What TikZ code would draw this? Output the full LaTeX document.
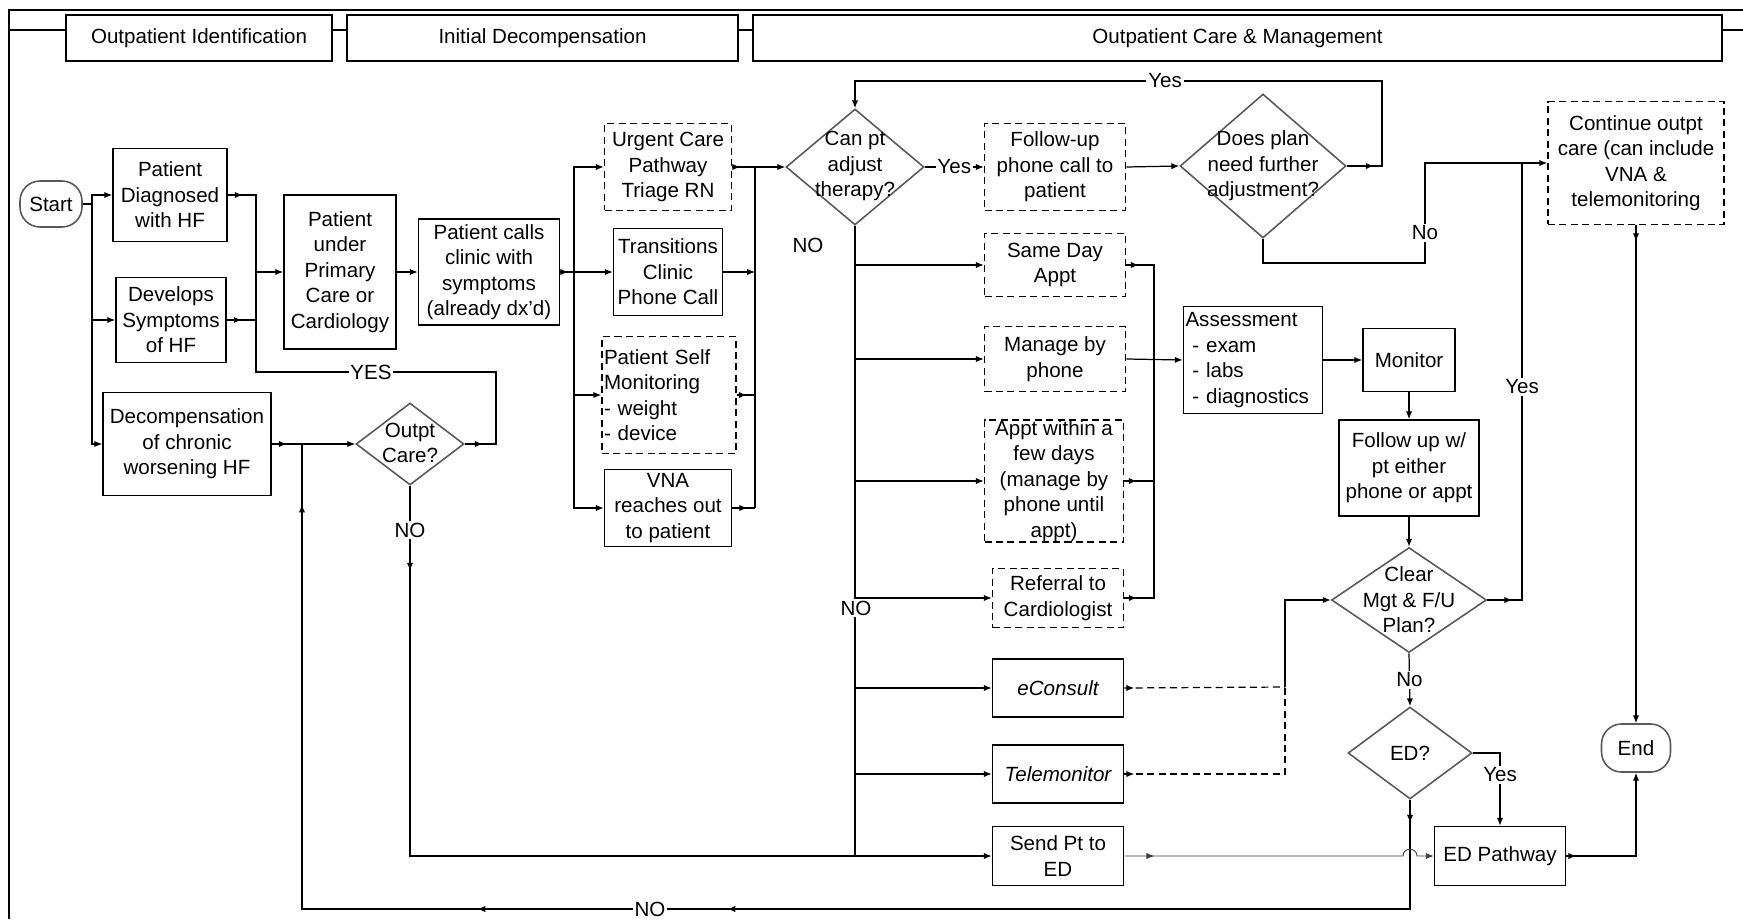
\documentclass[tikz,border=0pt]{standalone}
\usepackage{fontspec}
\setmainfont{Liberation Sans}
\usetikzlibrary{arrows.meta,shapes.geometric,decorations.markings}
\newcommand\fsz{\fontsize{11.7pt}{14.5pt}\selectfont}
\begin{document}
\begin{tikzpicture}[x=0.02cm,y=-0.02cm,
  every node/.style={font=\fsz, text=black},
  >={Latex[length=4.5pt,width=3.6pt]},
  conn/.style={line width=0.7pt, draw=black},
  box/.style={draw=black, line width=0.9pt, align=center, inner sep=0pt},
  dbox/.style={box, dash pattern=on 4pt off 2.5pt},
  dia/.style={diamond, draw=black!65, line width=0.9pt, inner sep=0pt},
  term/.style={draw=black!65, line width=0.9pt, rounded corners=0.4cm, inner sep=0pt, align=center},
  hdr/.style={draw=black, line width=1pt, inner sep=0pt},
  lbl/.style={fill=white, inner sep=1pt},
  am/.style={postaction={decorate,decoration={markings,mark=at position #1 with {\arrow{Latex[length=4.5pt,width=3.6pt]}}}}},
]
\useasboundingbox (0,0) rectangle (1743,919);
% frame
\draw[line width=1pt] (1743,10) -- (9,10) -- (9,919);
% headers
\node[hdr, minimum width=5.32cm, minimum height=0.92cm] (h1) at (199,38) {Outpatient Identification};
\node[hdr, minimum width=7.82cm, minimum height=0.92cm] (h2) at (542.5,38) {Initial Decompensation};
\node[hdr, minimum width=19.38cm, minimum height=0.92cm] (h3) at (1237.5,38) {Outpatient Care \& Management};
\draw[line width=1pt] (9,30) -- (h1.west |- 0,30);
\draw[line width=1pt] (h1.east |- 0,30) -- (h2.west |- 0,30);
\draw[line width=1pt] (h2.east |- 0,30) -- (h3.west |- 0,30);
\draw[line width=1pt] (h3.east |- 0,30) -- (1743,30);

% nodes
\node[term, minimum width=1.24cm, minimum height=0.92cm] (start) at (51,204) {Start};
\node[box, minimum width=2.28cm, minimum height=1.86cm] (diag) at (170,195) {Patient\\Diagnosed\\with HF};
\node[box, minimum width=2.2cm, minimum height=1.7cm] (dev) at (171,320) {Develops\\Symptoms\\of HF};
\node[box, minimum width=3.36cm, minimum height=2.06cm] (decomp) at (187,444) {Decompensation\\of chronic\\worsening HF};
\node[box, minimum width=2.24cm, minimum height=3.08cm] (prim) at (340,272) {Patient\\under\\Primary\\Care or\\Cardiology};
\node[box, minimum width=2.82cm, minimum height=2.12cm] (calls) at (489,272) {Patient calls\\clinic with\\symptoms\\(already dx'd)};
\node[dia, minimum width=2.16cm, minimum height=1.64cm] (outpt) at (410,444) {};
\node[align=center] (outpttxt) at (410,443) {Outpt\\Care?};

\node[dbox, minimum width=2.54cm, minimum height=1.74cm] (urg) at (668,167) {Urgent Care\\Pathway\\Triage RN};
\node[box, minimum width=2.18cm, minimum height=1.74cm] (trans) at (668,272) {Transitions\\Clinic\\Phone Call};
\node[dbox, minimum width=2.68cm, minimum height=2.34cm, text width=2.6cm, align=left] (self) at (669,395) {Patient Self\\Monitoring\\- weight\\- device};
\node[box, minimum width=2.54cm, minimum height=1.54cm] (vna) at (668,508) {VNA\\reaches out\\to patient};

\node[dia, minimum width=2.76cm, minimum height=2.32cm] (can) at (855,167) {};
\node[align=center] (cantxt) at (855,166) {Can pt\\adjust\\therapy?};

\node[dbox, minimum width=2.82cm, minimum height=1.74cm] (fu) at (1055,167) {Follow-up\\phone call to\\patient};
\node[dbox, minimum width=2.82cm, minimum height=1.26cm] (same) at (1055,265) {Same Day\\Appt};
\node[dbox, minimum width=2.82cm, minimum height=1.3cm] (manage) at (1055,359) {Manage by\\phone};
\node[dbox, minimum width=2.78cm, minimum height=2.44cm] (few) at (1054,481) {Appt within a\\few days\\(manage by\\phone until\\appt)};
\node[dbox, minimum width=2.62cm, minimum height=1.18cm] (ref) at (1058,598) {Referral to\\Cardiologist};
\node[box, minimum width=2.62cm, minimum height=1.16cm] (econ) at (1058,688) {\itshape eConsult};
\node[box, minimum width=2.62cm, minimum height=1.16cm] (tele) at (1058,774) {\itshape Telemonitor};
\node[box, minimum width=2.62cm, minimum height=1.18cm] (send) at (1058,856) {Send Pt to\\ED};

\node[box, minimum width=2.78cm, minimum height=2.14cm, text width=2.7cm, align=left] (assess) at (1253,360) {Assessment\\~- exam\\~- labs\\~- diagnostics};
\node[box, minimum width=1.84cm, minimum height=1.26cm] (mon) at (1409,360) {Monitor};
\node[box, minimum width=2.8cm, minimum height=1.92cm] (fup) at (1409,468) {Follow up w/\\pt either\\phone or appt};
\node[dia, minimum width=3.1cm, minimum height=2.1cm] (clear) at (1409,600) {};
\node[align=center] (cleartxt) at (1409,600) {Clear\\Mgt \& F/U\\Plan?};
\node[dia, minimum width=3.32cm, minimum height=2.88cm] (does) at (1263,166) {};
\node[align=center] (doestxt) at (1263,166) {Does plan\\need further\\adjustment?};
\node[dbox, minimum width=3.52cm, minimum height=2.46cm] (cont) at (1636,163) {Continue outpt\\care (can include\\VNA \&\\telemonitoring};
\node[term, minimum width=1.38cm, minimum height=0.96cm] (end) at (1636,748) {End};
\node[box, minimum width=2.62cm, minimum height=1.18cm] (edpath) at (1500,856) {ED Pathway};
\node[dia, minimum width=2.48cm, minimum height=1.84cm] (ed) at (1410,753) {};
\node (edtxt) at (1410,753) {ED?};

% junction coordinates
\coordinate (t1) at (92,204);
\coordinate (m1) at (256,272);
\coordinate (t2) at (574,272);
\coordinate (r1) at (755,167);
\coordinate (r2) at (755,508);
\coordinate (t3) at (1154,360);
\coordinate (j1) at (1285,687);

% connectors: identification
\draw[conn] (start.east) -- (t1);
\draw[conn,->] (t1) |- (diag.west);
\draw[conn,->] (t1) |- (dev.west);
\draw[conn,->] (t1) |- (decomp.west);
\draw[conn,am=0.3cm] (diag.east) -| (m1);
\draw[conn,am=0.3cm] (dev.east) -| (m1);
\draw[conn,->] (m1) -- (prim.west);
\draw[conn,->,am=0.3cm] (decomp.east) -- (outpt.west);
\draw[conn,am=0.36cm] (outpt.east) -| (496,372) -| (m1);
\node[lbl] at (371,372) {YES};
\draw[conn,->,am=1.7cm] (outpt.south) |- (send.west);
\node[lbl] at (410,530) {NO};

% initial decompensation
\draw[conn,->] (prim.east) -- (calls.west);
\draw[conn,am=0.16cm] (calls.east) -- (t2);
\draw[conn,->] (t2) |- (urg.west);
\draw[conn,->] (t2) |- (trans.west);
\draw[conn,->] (t2) |- (self.west);
\draw[conn,->] (t2) |- (vna.west);
\draw[conn] (r1) -- (r2);
\draw[conn,->,am=0.16cm] (urg.east) -- (can.west);
\draw[conn,->] (trans.east) -- (trans.east -| r1);
\draw[conn,am=0.2cm] (self.east) -- (self.east -| r1);
\draw[conn,am=0.3cm] (vna.east) -- (vna.east -| r1);

% outpatient care
\draw[conn,->] (can.east) -- node[lbl]{Yes} (fu.west);
\draw[conn] (can.south) -- (can.south |- send.west);
\draw[conn,->] (can.south |- same.west) -- (same.west);
\draw[conn,->] (can.south |- manage.west) -- (manage.west);
\draw[conn,->] (can.south |- few.west) -- (few.west);
\draw[conn,->] (can.south |- ref.west) -- (ref.west);
\draw[conn,->] (can.south |- econ.west) -- (econ.west);
\draw[conn,->] (can.south |- tele.west) -- (tele.west);
\node[lbl] at (856,608) {NO};
\node at (808,245) {NO};

\draw[conn,->] (fu.east) -- (does.west);
\draw[conn,->,am=0.54cm] (does.east) -- (1382,166) |- (855,81) -- (can.north);
\node[lbl] at (1165,81) {Yes};
\draw[conn,->] (does.south) |- (1425,263) -- (1425,163) -- (cont.west);
\node[lbl] at (1425,233) {No};
\draw[conn,am=0.5cm] (clear.east) -| (1522,163);
\node[lbl] at (1522,387) {Yes};

\draw[conn,am=0.25cm] (same.east) -| (t3);
\draw[conn,am=0.25cm] (few.east) -| (t3);
\draw[conn,am=0.25cm] (ref.east) -| (t3);
\draw[conn,->] (manage.east) -- (assess.west);
\draw[conn,->] (assess.east) -- (mon.west);
\draw[conn,->] (mon.south) -- (fup.north);
\draw[conn,->] (fup.south) -- (clear.north);
\draw[conn,->] (clear.south) -- node[lbl]{No} (ed.north);
\draw[conn,->] (ed.east) -| node[lbl,pos=0.65]{Yes} (edpath.north);
\draw[conn,am=0.46cm,am=15.84cm,am=20.84cm,am=32.44cm] (ed.south) -- (ed.south |- 0,909) -| (302,444);
\node[lbl] at (650,909) {NO};

\draw[line width=0.5pt,draw=black!75,->,am=0.6cm] (send.east) -- (1403,856) .. controls (1403,847) and (1417,847) .. (1417,856) -- (edpath.west);
\draw[conn,dash pattern=on 4pt off 2.5pt,am=0.2cm] (econ.east) -- (j1);
\draw[conn,dash pattern=on 4pt off 2.5pt,am=0.2cm] (tele.east) -| (j1);
\draw[conn,->] (j1) |- (clear.west);

\draw[conn,->,am=0.2cm] (edpath.east) -| (end.south);
\draw[conn,->,am=0.32cm] (cont.south) -- (end.north);
\end{tikzpicture}
\end{document}
